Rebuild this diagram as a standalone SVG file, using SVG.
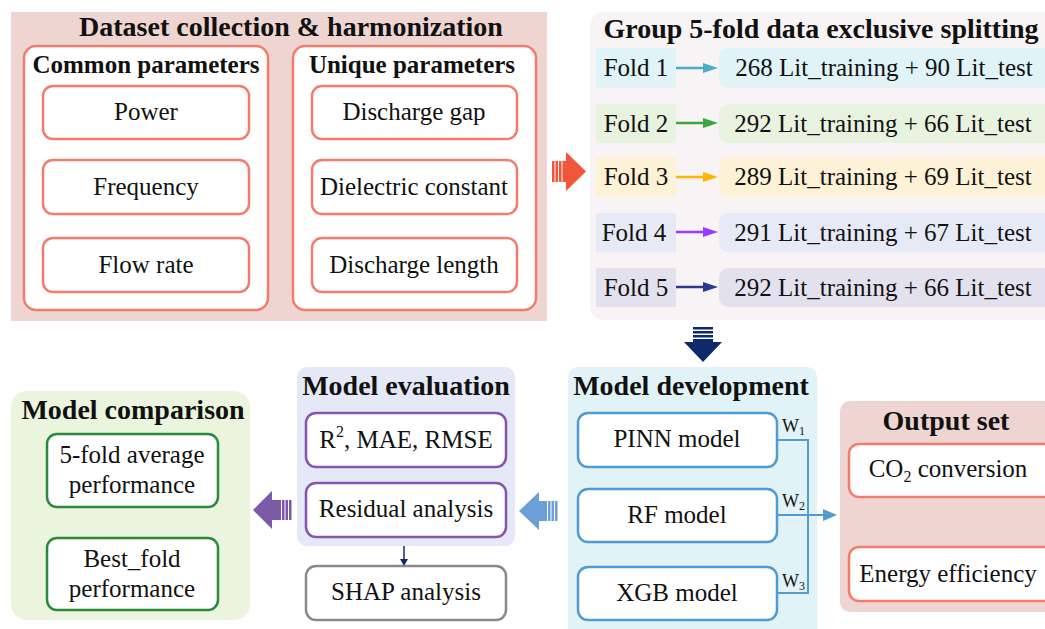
<svg xmlns="http://www.w3.org/2000/svg" width="1045" height="629" viewBox="0 0 1045 629">
<style>
text{font-family:"Liberation Serif","Times New Roman",serif;fill:#111}
.t{font-weight:bold;font-size:28px;text-anchor:middle}
.st{font-weight:bold;font-size:25px;text-anchor:middle}
.b{font-size:25px;text-anchor:middle}
.w{font-size:18px}
.box{fill:#fff;stroke-width:2.5}
.sal{stroke:#f47c6c}
.blu{stroke:#4f9bd2}
.pur{stroke:#8953b0}
.grn{stroke:#2b8a3e}
.gry{stroke:#8a8a8a}
.con{fill:none;stroke:#4f9bd2;stroke-width:2}
</style>
<defs>
<marker id="ah1" markerWidth="10" markerHeight="8" refX="10" refY="4" orient="auto" markerUnits="userSpaceOnUse"><path d="M0,0L10,4L0,8z" fill="#4aaec8"/></marker>
</defs>
<rect width="1045" height="629" fill="#fff"/>

<g id="dataset">
<rect x="11" y="12" width="536" height="309" fill="#efd5d1"/>
<text class="t" x="291" y="36">Dataset collection &amp; harmonization</text>
<g id="common">
<rect class="box sal" x="24" y="46" width="244" height="264" rx="12"/>
<text class="st" x="146" y="73">Common parameters</text>
<rect class="box sal" x="43" y="86" width="206" height="53" rx="10"/>
<text class="b" x="146" y="120">Power</text>
<rect class="box sal" x="43" y="160" width="206" height="54" rx="10"/>
<text class="b" x="146" y="195">Frequency</text>
<rect class="box sal" x="43" y="238" width="206" height="54" rx="10"/>
<text class="b" x="146" y="273">Flow rate</text>
</g>
<g id="unique">
<rect class="box sal" x="293" y="46" width="243" height="264" rx="12"/>
<text class="st" x="412" y="73">Unique parameters</text>
<rect class="box sal" x="312" y="86" width="205" height="53" rx="10"/>
<text class="b" x="414" y="120">Discharge gap</text>
<rect class="box sal" x="312" y="160" width="205" height="54" rx="10"/>
<text class="b" x="414" y="195">Dielectric constant</text>
<rect class="box sal" x="312" y="238" width="205" height="54" rx="10"/>
<text class="b" x="414" y="273">Discharge length</text>
</g>
</g>

<g id="splitting">
<rect x="590" y="12" width="470" height="308" rx="14" fill="#f8f3f4"/>
<text class="t" x="821" y="38">Group 5-fold data exclusive splitting</text>
<g id="fold1">
<rect x="596" y="48" width="80" height="40" fill="#e0f3f6"/>
<text class="b" x="636" y="76">Fold 1</text>
<rect x="719" y="48" width="340" height="40" rx="9" fill="#e0f3f6"/>
<text class="b" x="884" y="76">268 Lit_training + 90 Lit_test</text>
</g>
<g id="fold2">
<rect x="596" y="104" width="80" height="39" fill="#e8f3df"/>
<text class="b" x="636" y="132">Fold 2</text>
<rect x="719" y="104" width="340" height="39" rx="9" fill="#e8f3df"/>
<text class="b" x="883" y="132">292 Lit_training + 66 Lit_test</text>
</g>
<g id="fold3">
<rect x="596" y="157" width="80" height="40" fill="#fdf1d6"/>
<text class="b" x="636" y="185">Fold 3</text>
<rect x="719" y="157" width="340" height="40" rx="9" fill="#fdf1d6"/>
<text class="b" x="883" y="185">289 Lit_training + 69 Lit_test</text>
</g>
<g id="fold4">
<rect x="596" y="213" width="80" height="39" fill="#e6eaf6"/>
<text class="b" x="634" y="241">Fold 4</text>
<rect x="719" y="213" width="340" height="39" rx="9" fill="#e6eaf6"/>
<text class="b" x="883" y="241">291 Lit_training + 67 Lit_test</text>
</g>
<g id="fold5">
<rect x="596" y="268" width="80" height="39" fill="#e4e1ef"/>
<text class="b" x="636" y="296">Fold 5</text>
<rect x="719" y="268" width="340" height="39" rx="9" fill="#e4e1ef"/>
<text class="b" x="883" y="296">292 Lit_training + 66 Lit_test</text>
</g>
</g>

<g id="development">
<rect x="568" y="367" width="249" height="275" rx="10" fill="#e1f3f6"/>
<text class="t" x="691" y="395">Model development</text>
<rect class="box blu" x="578" y="413" width="199" height="54" rx="10"/>
<text class="b" x="677" y="447">PINN model</text>
<rect class="box blu" x="578" y="489" width="199" height="53" rx="10"/>
<text class="b" x="677" y="523">RF model</text>
<rect class="box blu" x="578" y="567" width="199" height="53" rx="10"/>
<text class="b" x="677" y="601">XGB model</text>
<text class="w" x="782" y="432">W<tspan font-size="12" dy="3">1</tspan></text>
<text class="w" x="782" y="507">W<tspan font-size="12" dy="3">2</tspan></text>
<text class="w" x="782" y="587">W<tspan font-size="12" dy="3">3</tspan></text>
</g>

<g id="output">
<rect x="840" y="401" width="220" height="211" rx="10" fill="#efd5d1"/>
<text class="t" x="946" y="430">Output set</text>
<rect class="box sal" x="849" y="444" width="205" height="53" rx="10"/>
<text class="b" x="948" y="477">CO<tspan font-size="16" dy="5">2</tspan><tspan dy="-5"> conversion</tspan></text>
<rect class="box sal" x="849" y="547" width="205" height="54" rx="10"/>
<text class="b" x="948" y="582">Energy efficiency</text>
</g>

<g id="evaluation">
<rect x="297" y="367" width="218" height="179" rx="10" fill="#e5e8f6"/>
<text class="t" x="406" y="395">Model evaluation</text>
<rect class="box pur" x="306" y="413" width="200" height="54" rx="10"/>
<text class="b" x="406" y="448">R<tspan font-size="16" dy="-11">2</tspan><tspan dy="11">, MAE, RMSE</tspan></text>
<rect class="box pur" x="306" y="483" width="200" height="54" rx="10"/>
<text class="b" x="406" y="517">Residual analysis</text>
</g>

<g id="shap">
<rect class="box gry" x="306" y="566" width="200" height="54" rx="10"/>
<text class="b" x="406" y="600">SHAP analysis</text>
</g>

<g id="comparison">
<rect x="11" y="391" width="239" height="229" rx="16" fill="#ebf4dd"/>
<text class="t" x="133" y="419">Model comparison</text>
<rect class="box grn" x="47" y="434" width="171" height="73" rx="10"/>
<text class="b" x="132" y="463">5-fold average</text>
<text class="b" x="132" y="493">performance</text>
<rect class="box grn" x="47" y="538" width="171" height="72" rx="10"/>
<text class="b" x="132" y="567">Best_fold</text>
<text class="b" x="132" y="597">performance</text>
</g>

<g id="connectors">
<line x1="676" y1="68" x2="706" y2="68" stroke="#4aaec8" stroke-width="2.5"/>
<path d="M703,63L718,68L703,73z" fill="#4aaec8"/>
<line x1="676" y1="123" x2="706" y2="123" stroke="#3aa83c" stroke-width="2.5"/>
<path d="M703,118L718,123L703,128z" fill="#3aa83c"/>
<line x1="676" y1="177" x2="706" y2="177" stroke="#ffb400" stroke-width="2.5"/>
<path d="M703,172L718,177L703,182z" fill="#ffb400"/>
<line x1="676" y1="232" x2="706" y2="232" stroke="#9a3cf5" stroke-width="2.5"/>
<path d="M703,227L718,232L703,237z" fill="#9a3cf5"/>
<line x1="676" y1="287" x2="706" y2="287" stroke="#283891" stroke-width="2.5"/>
<path d="M703,282L718,287L703,292z" fill="#283891"/>

<g fill="#f2553a">
<rect x="552" y="161" width="2.5" height="21"/>
<rect x="555.5" y="161" width="2.5" height="21"/>
<rect x="559" y="161" width="2.5" height="21"/>
<path d="M562.5,161H566V152L586,171.5L566,191V182H562.5z"/>
</g>
<g fill="#0e2a6a">
<rect x="693" y="327" width="20" height="2.5"/>
<rect x="693" y="331" width="20" height="2.5"/>
<rect x="693" y="335" width="20" height="2.5"/>
<path d="M693,339H713V342H722L703,362L684,342H693z"/>
</g>
<g fill="#6b9fd6">
<rect x="555" y="501" width="2.5" height="20"/>
<rect x="551.5" y="501" width="2.5" height="20"/>
<rect x="548" y="501" width="2.5" height="20"/>
<path d="M547,501H539V492L519,511L539,530V521H547z"/>
</g>
<g fill="#7a5aa6">
<rect x="289" y="500" width="2.5" height="20"/>
<rect x="285.5" y="500" width="2.5" height="20"/>
<rect x="282" y="500" width="2.5" height="20"/>
<path d="M281,500H272V491L253,510L272,529V520H281z"/>
</g>
<line x1="404" y1="546" x2="404" y2="561" stroke="#0e2a6a" stroke-width="1.5"/>
<path d="M400,559L404,566L408,559z" fill="#0e2a6a"/>

<path class="con" d="M777,440H808V593H777"/>
<line class="con" x1="777" y1="515" x2="826" y2="515"/>
<path d="M823,509L837,515L823,521z" fill="#4f9bd2"/>
</g>
</svg>
